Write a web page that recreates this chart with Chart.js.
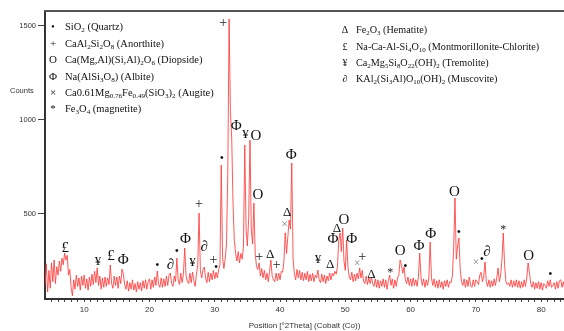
<!DOCTYPE html>
<html><head><meta charset="utf-8">
<script src="https://cdn.jsdelivr.net/npm/chart.js@4/dist/chart.umd.min.js"></script>
<style>html,body{margin:0;padding:0;background:#fff}#wrap{width:564px;height:331px;position:relative}</style>
</head><body><div id="wrap"><canvas id="c" width="564" height="331"></canvas></div>
<script>
// XRD pattern, 2θ grid start and step (degrees)
const startAngle = 4.0;
const stepAngle = 0.2;
// counts, one row = 2 degrees
const counts = [
 120,235,85,200,105,240,140,255,130,220,      // 4.0
 175,250,195,265,230,292,255,280,175,205,     // 6.0
 110,65,150,100,175,115,160,95,170,120,       // 8.0
 175,105,155,95,165,115,180,125,195,135,      // 10.0
 213,120,170,100,160,110,165,115,160,125,     // 12.0
 229,130,105,170,120,165,105,170,130,207,     // 14.0
 180,125,100,145,90,135,100,150,95,130,       // 16.0
 85,140,100,135,90,145,105,150,100,140,       // 18.0
 155,100,150,110,165,120,197,125,110,160,     // 20.0
 110,155,115,170,120,175,186,130,115,170,     // 22.0
 140,266,150,125,185,135,180,319,175,140,     // 24.0
 130,185,135,191,145,115,180,230,505,200,     // 26.0
 160,205,218,160,135,190,140,185,150,200,     // 28.0
 155,190,160,205,230,760,270,210,260,340,     // 30.0
 720,1537,1050,904,560,360,290,250,300,240,   // 32.0
 290,260,330,867,420,330,480,893,420,340,     // 34.0
 558,290,220,205,240,170,210,160,200,150,     // 36.0
 185,140,195,255,170,150,140,186,145,185,     // 38.0
 150,195,190,250,400,290,380,468,420,771,     // 40.0
 260,180,150,205,160,200,150,190,145,185,     // 42.0
 150,195,140,180,145,185,140,175,160,202,     // 44.0
 150,135,180,140,175,130,170,145,186,150,     // 46.0
 185,170,195,180,220,362,399,300,425,250,     // 48.0
 200,362,220,165,150,190,140,180,145,185,     // 50.0
 155,213,160,200,140,130,170,125,160,130,     // 52.0
 165,130,115,155,110,150,105,145,115,155,     // 54.0
 110,150,100,145,175,120,155,105,150,115,     // 56.0
 160,175,255,230,185,218,150,130,165,120,     // 58.0
 155,115,160,120,150,115,165,292,160,120,     // 60.0
 155,110,150,120,160,351,160,120,155,110,     // 62.0
 145,105,150,110,140,100,145,115,150,110,     // 64.0
 140,135,170,320,585,260,330,372,210,140,     // 66.0
 120,155,110,150,115,165,120,110,150,115,     // 68.0
 150,140,125,175,190,140,165,245,140,115,     // 70.0
 150,110,145,115,155,120,160,213,140,175,     // 72.0
 260,399,230,140,125,135,115,150,110,145,     // 74.0
 115,150,110,145,105,140,110,150,115,160,     // 76.0
 240,190,130,110,140,100,135,105,140,100,     // 78.0
 135,95,130,120,105,145,115,150,110,120,      // 80.0
 135,100,140,105,145,150,110,140,105,135,     // 82.0
 120                                          // 84.0
];
const yTicks = [500, 1000, 1500];
const xMinorTicks = [5,6,7,8,9,10,11,12,13,14,15,16,17,18,19,20,21,22,23,24,25,26,27,28,29,30,31,32,33,34,35,36,37,38,39,40,41,42,43,44,45,46,47,48,49,50,51,52,53,54,55,56,57,58,59,60,61,62,63,64,65,66,67,68,69,70,71,72,73,74,75,76,77,78,79,80,81,82,83];
const xLabelEvery = 10;
const xTitle = 'Position [°2Theta] (Cobalt (Co))';
const yTitle = 'Counts';
const legendLeft = [
  ['•', 'SiO_{2} (Quartz)'],
  ['+', 'CaAl_{2}Si_{2}O_{8} (Anorthite)'],
  ['O', 'Ca(Mg,Al)(Si,Al)_{2}O_{6} (Diopside)'],
  ['Φ', 'Na(AlSi_{3}O_{8}) (Albite)'],
  ['×', 'Ca0.61Mg_{0.76}Fe_{0.49}(SiO_{3})_{2} (Augite)'],
  ['*', 'Fe_{3}O_{4} (magnetite)']
];
const legendRight = [
  ['Δ', 'Fe_{2}O_{3} (Hematite)'],
  ['£', 'Na-Ca-Al-Si_{4}O_{10} (Montmorillonite-Chlorite)'],
  ['¥', 'Ca_{2}Mg_{5}Si_{8}O_{22}(OH)_{2} (Tremolite)'],
  ['∂', 'KAl_{2}(Si_{3}Al)O_{10}(OH)_{2} (Muscovite)']
];
// [symbol, 2θ, counts-level where the symbol sits]
const peakLabels = [
 ['£',7.1,319],['¥',12.1,245],['£',14.1,277],['Φ',16.0,255],['•',21.2,223],['∂',23.2,229],
 ['•',24.2,298],['Φ',25.5,367],['¥',26.6,239],['+',27.6,553],['∂',28.4,325],['+',29.8,255],
 ['•',30.2,213],['•',31.1,793],['+',31.3,1516],['Φ',33.3,968],['¥',34.7,920],['O',36.3,915],
 ['O',36.6,601],['+',36.8,271],['Δ',38.5,282],['+',39.5,229],['×',40.7,441],['Δ',41.1,510],
 ['Φ',41.7,814],['¥',45.8,255],['Δ',47.7,229],['Φ',48.1,367],['Δ',48.7,425],['O',49.8,468],
 ['Φ',51.0,367],['×',51.8,234],['+',52.6,271],['Δ',54.0,176],['*',56.9,186],['O',58.4,303],
 ['•',59.2,218],['Φ',61.3,330],['Φ',63.1,394],['O',66.7,617],['•',67.4,399],['×',70.0,239],
 ['•',70.9,255],['∂',71.7,298],['*',74.2,415],['O',78.1,277],['•',81.4,176]
];

const points = counts.map((c, i) => ({ x: +(startAngle + i * stepAngle).toFixed(1), y: c }));

const SERIF = '"Liberation Serif", "Times New Roman", serif';
const SANS = '"Liberation Sans", Arial, sans-serif';

function drawRich(ctx, str, x, y, size) {
  const parts = str.split(/(_\{[^}]*\})/);
  let cx = x;
  for (const p of parts) {
    if (!p) continue;
    if (p.startsWith('_{')) {
      const t = p.slice(2, -1);
      ctx.font = (size * 0.68) + 'px ' + SERIF;
      ctx.fillText(t, cx, y + size * 0.2);
      cx += ctx.measureText(t).width;
    } else {
      ctx.font = size + 'px ' + SERIF;
      ctx.fillText(p, cx, y);
      cx += ctx.measureText(p).width;
    }
  }
  return cx;
}

function symStyle(s) {
  switch (s) {
    case '•': return { size: 12, color: '#111' };
    case '×': return { size: 12, color: '#888' };
    case '*': return { size: 12, color: '#222' };
    case '+': return { size: 14, color: '#222' };
    case '¥': return { size: 13, color: '#111' };
    case 'Δ': return { size: 13, color: '#111' };
    default: return { size: 15, color: '#111' };
  }
}

const decor = {
  id: 'decor',
  afterDatasetsDraw(chart) {
    const ctx = chart.ctx;
    const xs = chart.scales.x, ys = chart.scales.y;
    ctx.save();
    ctx.textAlign = 'center';
    ctx.textBaseline = 'middle';
    for (const [s, a, v] of peakLabels) {
      const st = symStyle(s);
      ctx.font = st.size + 'px ' + SERIF;
      ctx.fillStyle = st.color;
      ctx.fillText(s, xs.getPixelForValue(a), ys.getPixelForValue(v));
    }
    ctx.restore();
  },
  afterDraw(chart) {
    const ctx = chart.ctx;
    const ca = chart.chartArea;
    ctx.save();
    // top frame line
    ctx.strokeStyle = '#555';
    ctx.lineWidth = 2;
    ctx.beginPath();
    ctx.moveTo(ca.left - 1, ca.top - 1);
    ctx.lineTo(chart.width, ca.top - 1);
    ctx.stroke();
    // y title (horizontal)
    ctx.fillStyle = '#333';
    ctx.font = '7.5px ' + SANS;
    ctx.textAlign = 'left';
    ctx.textBaseline = 'middle';
    ctx.fillText(yTitle, 10, 91);
    // legends
    ctx.fillStyle = '#111';
    const lsz = 10.5;
    const rowsL = [26, 43, 59, 76, 92, 108];
    legendLeft.forEach(([s, t], i) => {
      ctx.textAlign = 'center';
      ctx.textBaseline = 'alphabetic';
      ctx.font = '11px ' + SERIF;
      ctx.fillText(s, 53, rowsL[i] + 4);
      ctx.textAlign = 'left';
      drawRich(ctx, t, 65, rowsL[i] + 4, lsz);
    });
    const rowsR = [29, 46, 62, 78];
    legendRight.forEach(([s, t], i) => {
      ctx.textAlign = 'center';
      ctx.textBaseline = 'alphabetic';
      ctx.font = '10px ' + SERIF;
      ctx.fillText(s, 345, rowsR[i] + 4);
      ctx.textAlign = 'left';
      drawRich(ctx, t, 356, rowsR[i] + 4, 10.2);
    });
    ctx.restore();
  }
};

new Chart(document.getElementById('c'), {
  type: 'line',
  data: { datasets: [{ data: points, borderColor: 'rgba(255,60,60,0.85)', borderWidth: 1, pointRadius: 0, tension: 0, fill: false }] },
  options: {
    responsive: false, animation: false, devicePixelRatio: 1,
    layout: { padding: { top: 12, right: 0, left: 0, bottom: 0 } },
    plugins: { legend: { display: false }, tooltip: { enabled: false } },
    scales: {
      x: {
        type: 'linear', min: 4, max: 83.5,
        afterBuildTicks: s => { s.ticks = xMinorTicks.map(v => ({ value: v })); },
        afterFit: s => { s.height = 32; },
        ticks: { autoSkip: false, maxRotation: 0, font: { family: SANS, size: 8 }, color: '#333', padding: 3,
          callback: v => (v % xLabelEvery === 0 ? String(v) : '') },
        grid: { drawOnChartArea: false, tickLength: 3, color: '#444', lineWidth: 1 },
        border: { color: '#333', width: 2 },
        title: { display: true, text: xTitle, font: { family: SANS, size: 8 }, color: '#333', padding: { top: 4, bottom: 0 } }
      },
      y: {
        min: 48, max: 1574,
        afterBuildTicks: s => { s.ticks = yTicks.map(v => ({ value: v })); },
        afterFit: s => { s.width = 45; },
        ticks: { font: { family: SANS, size: 7.5 }, color: '#333', padding: 2, callback: v => String(v) },
        grid: { drawOnChartArea: false, tickLength: 7, color: '#444' },
        border: { color: '#333', width: 2 }
      }
    }
  },
  plugins: [decor]
});
</script></body></html>
